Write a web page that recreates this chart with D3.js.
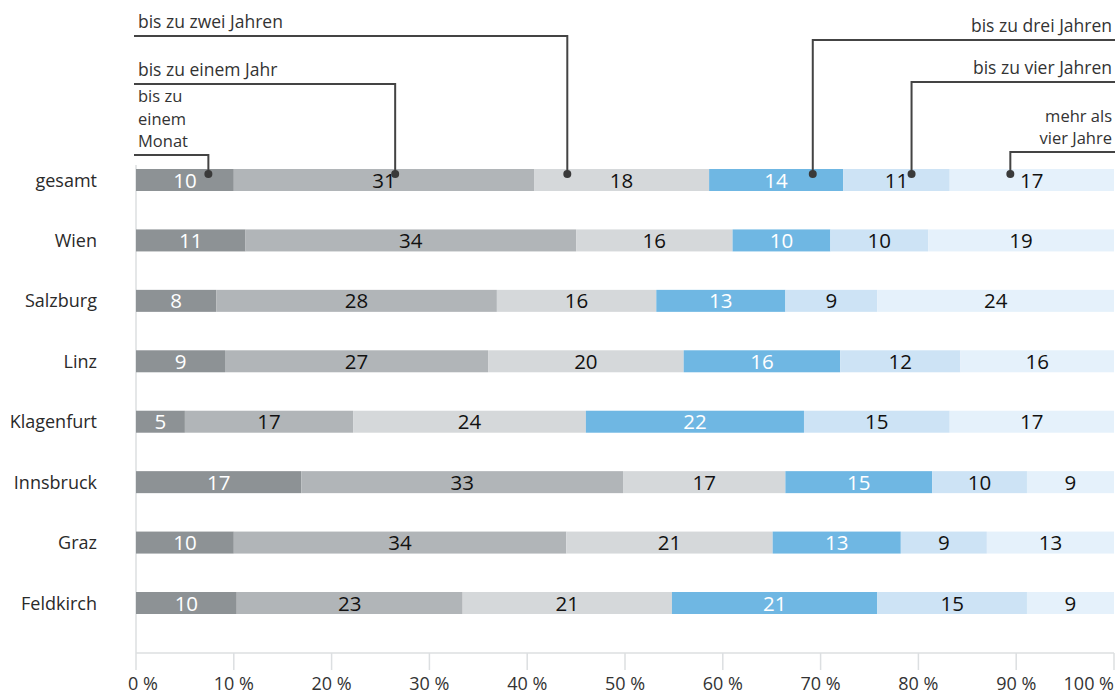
<!DOCTYPE html>
<html>
<head>
<meta charset="utf-8">
<script src="https://cdn.jsdelivr.net/npm/d3@7"></script>
<style>
  body { margin: 0; background: #fff; }
  svg { font-family: "Open Sans", "Noto Sans", sans-serif; }
  .cat { font-size: 18px; fill: #2a2a2a; text-anchor: end; }
  .val { font-size: 20.5px; text-anchor: middle; }
  .tick-label { font-size: 18px; fill: #333; }
  .ann { font-size: 17.5px; fill: #333; }
  .ann.multi { font-size: 16.5px; }
</style>
</head>
<body>
<svg id="chart"></svg>
<script>
// categories (top to bottom)
const cities = ['gesamt', 'Wien', 'Salzburg', 'Linz', 'Klagenfurt', 'Innsbruck', 'Graz', 'Feldkirch'];
// duration groups
const groups = ['bis zu einem Monat', 'bis zu einem Jahr', 'bis zu zwei Jahren',
                'bis zu drei Jahren', 'bis zu vier Jahren', 'mehr als vier Jahre'];
// shares per city, one array per group
const monat  = [10.0, 11.2,  8.2,  9.1,  5.0, 16.9, 10.0, 10.3];
const jahr1  = [30.7, 33.8, 28.7, 26.9, 17.2, 32.9, 34.0, 23.1];
const jahr2  = [17.9, 16.0, 16.3, 20.0, 23.8, 16.6, 21.1, 21.4];
const jahr3  = [13.7, 10.0, 13.2, 16.0, 22.3, 15.0, 13.1, 21.0];
const jahr4  = [10.9, 10.0,  9.4, 12.3, 14.9,  9.7,  8.8, 15.3];
const mehr   = [16.8, 19.0, 24.2, 15.7, 16.8,  8.9, 13.0,  8.9];
// printed labels
const labMonat = [10, 11,  8,  9,  5, 17, 10, 10];
const labJahr1 = [31, 34, 28, 27, 17, 33, 34, 23];
const labJahr2 = [18, 16, 16, 20, 24, 17, 21, 21];
const labJahr3 = [14, 10, 13, 16, 22, 15, 13, 21];
const labJahr4 = [11, 10,  9, 12, 15, 10,  9, 15];
const labMehr  = [17, 19, 24, 16, 17,  9, 13,  9];
const ticks = [0, 10, 20, 30, 40, 50, 60, 70, 80, 90, 100];
// annotation anchor positions (in %) on the "gesamt" bar
const annAnchor = [7.4, 26.5, 44.1, 69.2, 79.3, 89.4];

const colors = ['#8d9295', '#b1b5b8', '#d5d8da', '#6fb7e3', '#cde3f5', '#e5f1fb'];
const textColors = ['#fff', '#111', '#111', '#fff', '#111', '#111'];

const seriesVals = [monat, jahr1, jahr2, jahr3, jahr4, mehr];
const seriesLabs = [labMonat, labJahr1, labJahr2, labJahr3, labJahr4, labMehr];

const W = 1116, H = 696;
const svg = d3.select('#chart').attr('width', W).attr('height', H);

const x = d3.scaleLinear().domain([0, 100]).range([136, 1114]);
const y = d3.scalePoint().domain(cities).range([180, 603]);
const barH = 22;

// build stack rows
const rows = cities.map((c, i) => {
  const o = { city: c };
  groups.forEach((g, j) => { o[g] = seriesVals[j][i]; });
  return o;
});
const stack = d3.stack().keys(groups)(rows);

// axis lines
const axisY = 653;
svg.append('line').attr('x1', x(0)).attr('x2', x(0)).attr('y1', 165).attr('y2', axisY)
  .attr('stroke', '#dcdfe1').attr('stroke-width', 1.5);
svg.append('line').attr('x1', x(0)).attr('x2', x(100)).attr('y1', axisY).attr('y2', axisY)
  .attr('stroke', '#dcdfe1').attr('stroke-width', 1.5);
ticks.forEach((t) => {
  svg.append('line').attr('x1', x(t)).attr('x2', x(t)).attr('y1', axisY).attr('y2', 670)
    .attr('stroke', '#dcdfe1').attr('stroke-width', 1.5);
  svg.append('text').attr('class', 'tick-label')
    .attr('x', t === 100 ? x(t) : x(t) + (t === 0 ? 7 : 0))
    .attr('y', 690)
    .attr('text-anchor', t === 100 ? 'end' : 'middle')
    .text(t + ' %');
});

// bars
stack.forEach((layer, j) => {
  const g = svg.append('g');
  g.selectAll('rect').data(layer).enter().append('rect')
    .attr('x', (d) => x(d[0])).attr('width', (d) => x(d[1]) - x(d[0]))
    .attr('y', (d) => y(d.data.city) - barH / 2).attr('height', barH)
    .attr('fill', colors[j]);
  g.selectAll('text').data(layer).enter().append('text')
    .attr('class', 'val')
    .attr('x', (d) => (x(d[0]) + x(d[1])) / 2)
    .attr('y', (d) => y(d.data.city) + 7.5)
    .attr('fill', textColors[j])
    .text((d, i) => seriesLabs[j][i]);
});

// category labels
svg.selectAll('.cat').data(cities).enter().append('text')
  .attr('class', 'cat').attr('x', 97).attr('y', (d) => y(d) + 6.5)
  .attr('fill', (d) => (d === 'gesamt' ? '#000' : '#2a2a2a'))
  .text((d) => d);

// annotations
const annText = [['bis zu', 'einem', 'Monat'], ['bis zu einem Jahr'], ['bis zu zwei Jahren'],
                 ['bis zu drei Jahren'], ['bis zu vier Jahren'], ['mehr als', 'vier Jahre']];
const annLineY = [155, 84, 36, 40, 82, 152];
const annSide = ['l', 'l', 'l', 'r', 'r', 'r'];
const dotY = y('gesamt') - 6;
const lineGap = 22.5;

annText.forEach((lines, k) => {
  const ax = x(annAnchor[k]);
  const ly = annLineY[k];
  const left = annSide[k] === 'l';
  const xEnd = left ? 134 : 1115;
  svg.append('path')
    .attr('d', `M${xEnd},${ly}H${ax}V${dotY}`)
    .attr('fill', 'none').attr('stroke', '#444').attr('stroke-width', 2);
  svg.append('circle').attr('cx', ax).attr('cy', dotY).attr('r', 4).attr('fill', '#3a3a3a');
  const n = lines.length;
  const tx = left ? 138 : 1112;
  lines.forEach((s, m) => {
    svg.append('text').attr('class', n > 1 ? 'ann multi' : 'ann')
      .attr('x', tx)
      .attr('y', ly - 8 - (n - 1 - m) * lineGap)
      .attr('text-anchor', left ? 'start' : 'end')
      .text(s);
  });
});
</script>
</body>
</html>
